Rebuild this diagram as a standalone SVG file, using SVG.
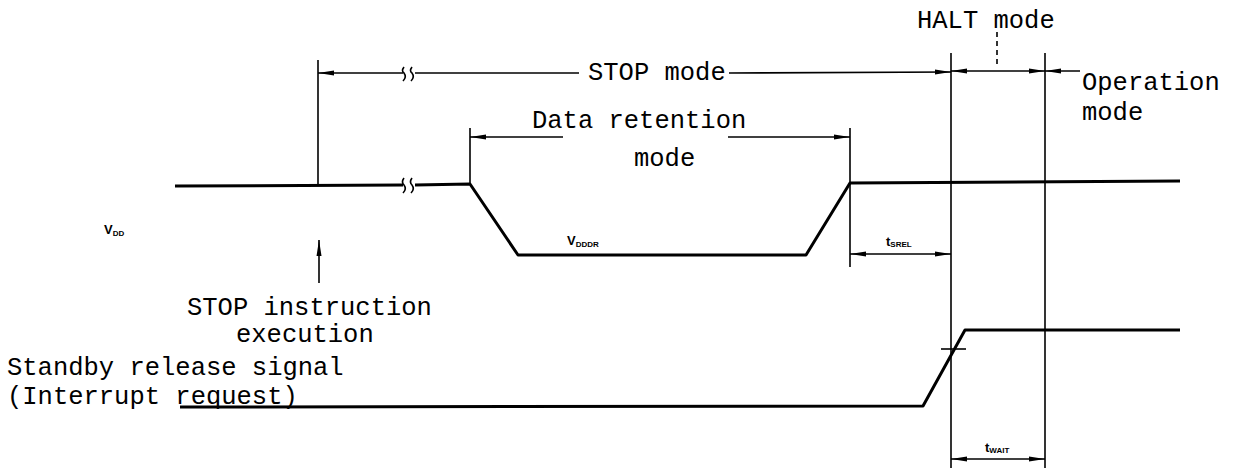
<svg xmlns="http://www.w3.org/2000/svg" width="1234" height="468" viewBox="0 0 1234 468">
<style>
.t{font-family:"Liberation Mono","DejaVu Sans Mono",monospace;font-size:25.5px;fill:#000}
.s{font-family:"Liberation Sans","DejaVu Sans",sans-serif;font-size:13px;fill:#000;font-weight:bold}
.ss{font-family:"Liberation Sans","DejaVu Sans",sans-serif;font-size:8px;fill:#000;font-weight:bold}
.w{stroke:#000;stroke-width:3;fill:none;stroke-linejoin:round}
.l{stroke:#000;stroke-width:1.6;fill:none}
.d{stroke:#000;stroke-width:1.6;fill:none;stroke-dasharray:5,4}
</style>
<defs>
<marker id="ah" viewBox="0 0 16 6" refX="16" refY="3" markerWidth="16" markerHeight="6" markerUnits="userSpaceOnUse" orient="auto-start-reverse">
<path d="M0,0.5 L16,3 L0,5.5 z" fill="#000"/>
</marker>
</defs>
<g id="vdd-signal">
<path class="w" d="M175,186 L403,185"/>
<path class="w" d="M415,185 L470,184 L518,255 L806,255 L850,183 L1180,181"/>
<path class="l" d="M404,178 q-3,4 0,7 q3,4 -1,8 M412,178 q-3,4 0,7 q3,4 -1,8"/>
<text class="s" x="104" y="234">V<tspan class="ss" dy="2">DD</tspan></text>
<text class="s" x="567" y="245">V<tspan class="ss" dy="2">DDDR</tspan></text>
</g>
<g id="standby-signal">
<path class="w" d="M180,407 L923,406 L965,330 L1180,330"/>
<path class="l" d="M941,349 L966,349"/>
</g>
<g id="stop-instruction">
<text class="t" x="187" y="315">STOP instruction</text>
<text class="t" x="236" y="342">execution</text>
</g>
<g id="standby-label">
<text class="t" x="7" y="375">Standby release signal</text>
<text class="t" x="7" y="404">(Interrupt request)</text>
</g>
<g id="stop-mode">
<text class="t" x="588" y="80">STOP mode</text>
</g>
<g id="data-retention">
<text class="t" x="532" y="128">Data retention</text>
<text class="t" x="634" y="166">mode</text>
</g>
<g id="halt-mode">
<text class="t" x="917" y="28">HALT mode</text>
</g>
<g id="operation-mode">
<text class="t" x="1082" y="90">Operation</text>
<text class="t" x="1082" y="120">mode</text>
</g>
<g id="tsrel">
<text class="s" x="886" y="246">t<tspan class="ss" dy="1">SREL</tspan></text>
</g>
<g id="twait">
<text class="s" x="985" y="452">t<tspan class="ss" dy="1">WAIT</tspan></text>
</g>
<g id="connectors">
<path class="l" d="M318,60 L318,186"/>
<path class="l" d="M470,128 L470,184"/>
<path class="l" d="M850,128 L850,267"/>
<path class="l" d="M951,53 L951,468"/>
<path class="l" d="M1045,53 L1045,468"/>
<path class="l" d="M319,283 L319,240" marker-end="url(#ah)"/>
<path class="l" d="M403,73 L318,73" marker-end="url(#ah)"/>
<path class="l" d="M404,67 q-3,4 0,6 q3,4 -1,8 M412,67 q-3,4 0,6 q3,4 -1,8"/>
<path class="l" d="M415,73 L579,73"/>
<path class="l" d="M729,73 L951,72" marker-end="url(#ah)"/>
<path class="l" d="M951,71 L1045,71" marker-start="url(#ah)" marker-end="url(#ah)"/>
<path class="l" d="M1045,71 L1080,71" marker-start="url(#ah)"/>
<path class="d" d="M997,32 L997,67"/>
<path class="l" d="M470,137 L563,137" marker-start="url(#ah)"/>
<path class="l" d="M728,137 L850,137" marker-end="url(#ah)"/>
<path class="l" d="M850,254 L951,254" marker-start="url(#ah)" marker-end="url(#ah)"/>
<path class="l" d="M951,459 L1045,459" marker-start="url(#ah)" marker-end="url(#ah)"/>
</g>
</svg>
